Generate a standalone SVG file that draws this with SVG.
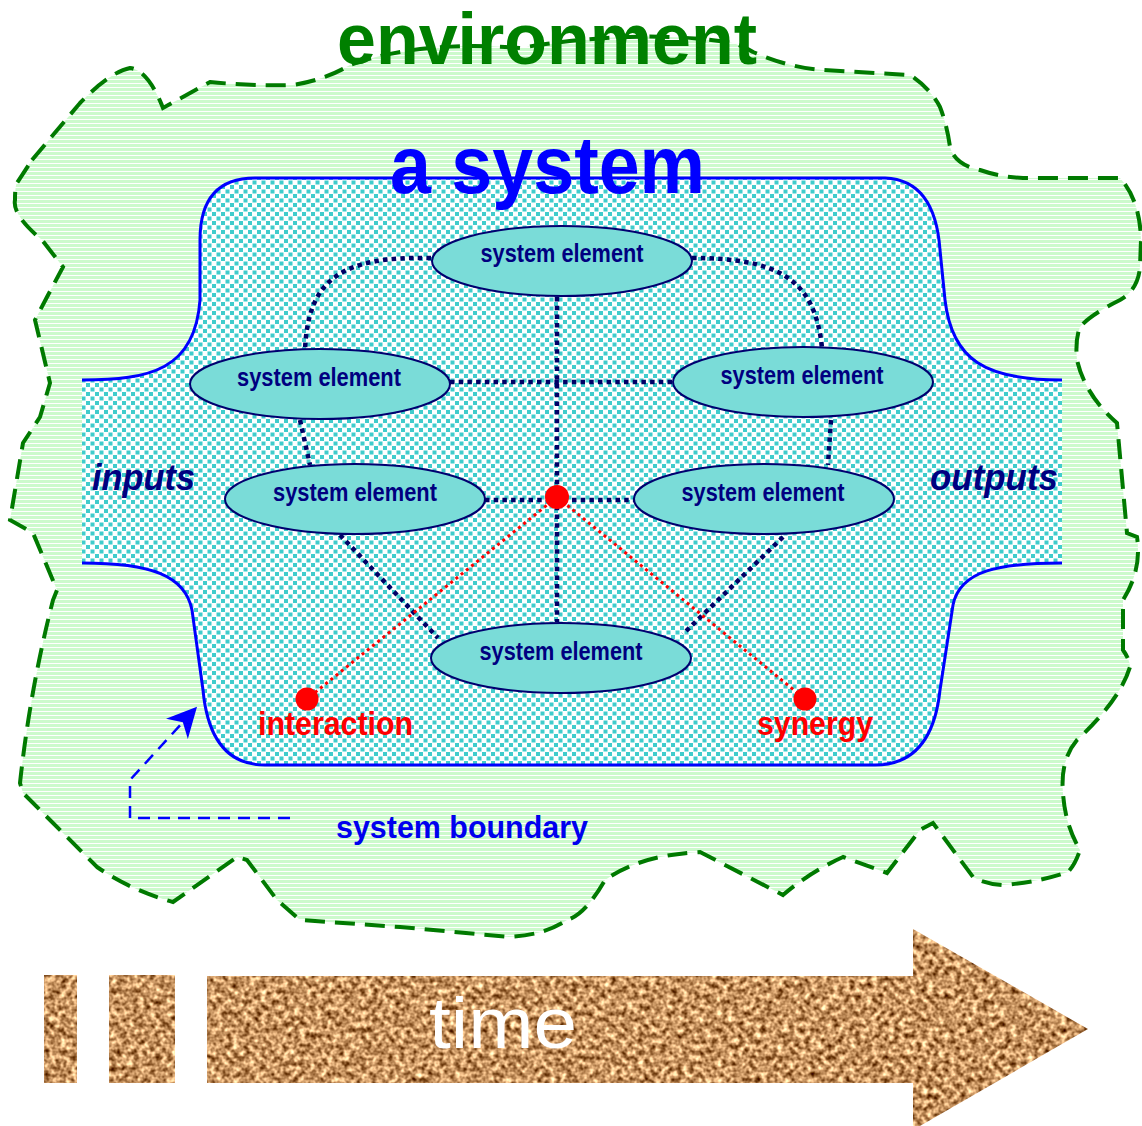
<svg xmlns="http://www.w3.org/2000/svg" width="1142" height="1126" viewBox="0 0 1142 1126">
<defs>
<pattern id="hatch" width="8" height="4" patternUnits="userSpaceOnUse">
<rect width="8" height="4" fill="#ccfacc"/>
<rect y="3" width="8" height="1" fill="#ffffff"/>
</pattern>
<pattern id="dots" width="9" height="9" patternUnits="userSpaceOnUse">
<rect width="9" height="9" fill="#ffffff"/>
<rect x="0.5" y="0.5" width="4" height="4" fill="#40cccc"/>
<rect x="5" y="5" width="4" height="4" fill="#40cccc"/>
</pattern>
<filter id="cork" x="0" y="0" width="1" height="1" color-interpolation-filters="sRGB">
<feTurbulence type="fractalNoise" baseFrequency="0.18" numOctaves="2" seed="7" result="n"/>
<feColorMatrix in="n" type="matrix" values="1.4 0 0 0 0.08  1.4 0 0 0 -0.12  1.3 0 0 0 -0.27  0 0 0 0 1" result="c"/>
<feComposite in="c" in2="SourceGraphic" operator="in"/>
</filter>
<marker id="barbBig" viewBox="0 0 10 10" refX="9" refY="5" markerWidth="30" markerHeight="30" markerUnits="userSpaceOnUse" orient="auto">
<path d="M0,0 L10,5 L0,10 L3,5 Z" fill="#0000ff"/>
</marker>
</defs>
<style>
.ell{fill:#7adcd8;stroke:#000070;stroke-width:2}
.lbl{font-family:"Liberation Sans",Arial,sans-serif;font-size:25px;font-weight:bold;fill:#000080;text-anchor:middle}
.con{fill:none;stroke:#000066;stroke-width:4.5;stroke-dasharray:4.5 4.2}
.red{fill:none;stroke:#ff0000;stroke-width:3;stroke-dasharray:3 3.7}
.io{font-family:"Liberation Sans",Arial,sans-serif;font-size:37px;font-weight:bold;font-style:italic;fill:#000080}
.rt{font-family:"Liberation Sans",Arial,sans-serif;font-size:33px;font-weight:bold;fill:#ff0000}
</style>
<rect width="1142" height="1126" fill="#ffffff"/>

<g id="environment">
<path d="M32,160 L80,103 Q110,72 130,68 Q148,70 163,108 L210,82 Q250,86 293,85 Q325,80 350,65 Q420,40 520,48 Q640,28 733,43 Q745,47 753,52 Q790,68 823,70 L910,75 Q930,88 940,107 Q947,125 950,147 Q955,165 980,170 Q1000,177 1023,178 L1120,178 Q1140,200 1141,240 L1140,267 Q1138,290 1120,300 Q1090,315 1080,327 Q1075,340 1077,360 Q1085,395 1117,423 L1127,533 L1137,537 Q1142,570 1123,600 L1123,650 Q1130,660 1130,667 Q1120,700 1077,740 Q1060,760 1063,793 Q1065,825 1080,850 Q1075,865 1068,872 Q1040,882 1003,885 Q985,884 973,877 L933,823 L920,830 L887,873 L843,857 Q810,872 783,895 L700,852 Q640,855 605,880 Q585,915 567,920 Q545,935 509,937 L400,927 L300,920 L277,900 L247,860 L237,857 L173,902 Q130,890 97,867 L23,793 L20,783 Q30,690 53,600 L57,590 L33,533 L10,520 L23,443 L40,417 L50,383 L35,320 L47,297 L63,267 L42,240 Q12,215 15,200 Q15,185 17,183 Z" fill="url(#hatch)" stroke="#007a00" stroke-width="4" stroke-dasharray="20 10"/>
<text x="337" y="64" font-family="'Liberation Sans',Arial,sans-serif" font-size="72" font-weight="bold" fill="#008000" textLength="420" lengthAdjust="spacingAndGlyphs">environment</text>
</g>

<g id="system">
<path d="M82,380 C150,380 195,370 200,300 L200,240 Q200,178 255,178 L885,178 Q935,180 940,250 L945,300 C952,360 985,380 1062,380 L1062,563 C1000,563 960,570 953,605 L940,690 Q932,765 875,765 L265,765 Q210,765 203,690 L192,610 C185,575 150,563 82,563 Z" fill="url(#dots)"/>
<path d="M82,380 C150,380 195,370 200,300 L200,240 Q200,178 255,178 L885,178 Q935,180 940,250 L945,300 C952,360 985,380 1062,380" fill="none" stroke="#0000ff" stroke-width="3"/>
<path d="M1062,563 C1000,563 960,570 953,605 L940,690 Q932,765 875,765 L265,765 Q210,765 203,690 L192,610 C185,575 150,563 82,563" fill="none" stroke="#0000ff" stroke-width="3"/>
<text x="390" y="193" font-family="'Liberation Sans',Arial,sans-serif" font-size="82" font-weight="bold" fill="#0000ff" textLength="315" lengthAdjust="spacingAndGlyphs">a system</text>
<text class="io" x="92" y="490" textLength="103" lengthAdjust="spacingAndGlyphs">inputs</text>
<text class="io" x="930" y="490" textLength="128" lengthAdjust="spacingAndGlyphs">outputs</text>
</g>

<g id="connectors">
<path class="con" d="M557,297 L557,622"/>
<path class="con" d="M450,382 L673,382"/>
<path class="con" d="M485,500 L635,500"/>
<path class="con" d="M431,258 C340,256 308,280 305,350"/>
<path class="con" d="M692,258 C780,258 815,280 822,348"/>
<path class="con" d="M300,420 L310,465"/>
<path class="con" d="M831,420 L828,465"/>
<path class="con" d="M340,535 L438,638"/>
<path class="con" d="M783,537 L683,634"/>
<path class="red" d="M557,497 L307,699"/>
<path class="red" d="M557,497 L805,699"/>
<path d="M290,818 L130,818 L130,780 L195,709" fill="none" stroke="#0000ff" stroke-width="2.5" stroke-dasharray="12 8" marker-end="url(#barbBig)"/>
</g>

<g id="e1"><ellipse class="ell" cx="562" cy="261" rx="130" ry="35"/><text class="lbl" x="562" y="262" textLength="163" lengthAdjust="spacingAndGlyphs">system element</text></g>
<g id="e2"><ellipse class="ell" cx="320" cy="384" rx="130" ry="35"/><text class="lbl" x="319" y="386" textLength="164" lengthAdjust="spacingAndGlyphs">system element</text></g>
<g id="e3"><ellipse class="ell" cx="803" cy="382" rx="130" ry="35"/><text class="lbl" x="802" y="384" textLength="163" lengthAdjust="spacingAndGlyphs">system element</text></g>
<g id="e4"><ellipse class="ell" cx="355" cy="499" rx="130" ry="35"/><text class="lbl" x="355" y="501" textLength="164" lengthAdjust="spacingAndGlyphs">system element</text></g>
<g id="e5"><ellipse class="ell" cx="764" cy="499" rx="130" ry="35"/><text class="lbl" x="763" y="501" textLength="163" lengthAdjust="spacingAndGlyphs">system element</text></g>
<g id="e6"><ellipse class="ell" cx="561" cy="658" rx="130" ry="35"/><text class="lbl" x="561" y="660" textLength="163" lengthAdjust="spacingAndGlyphs">system element</text></g>

<g id="center-dot"><circle cx="557" cy="497" r="12" fill="#ff0000"/></g>
<g id="interaction"><circle cx="307" cy="699" r="11.5" fill="#ff0000"/><text class="rt" x="258" y="735" textLength="155" lengthAdjust="spacingAndGlyphs">interaction</text></g>
<g id="synergy"><circle cx="805" cy="699" r="11.5" fill="#ff0000"/><text class="rt" x="757" y="735" textLength="116" lengthAdjust="spacingAndGlyphs">synergy</text></g>
<g id="boundary-label"><text x="336" y="838" font-family="'Liberation Sans',Arial,sans-serif" font-size="32" font-weight="bold" fill="#0000ee" textLength="252" lengthAdjust="spacingAndGlyphs">system boundary</text></g>

<g id="time">
<g filter="url(#cork)">
<rect x="44" y="975" width="33" height="108" fill="#c8915a"/>
<rect x="109" y="975" width="66" height="108" fill="#c8915a"/>
<path d="M207,976 L913,976 L913,929 L1088,1029 L913,1130 L913,1083 L207,1083 Z" fill="#c8915a"/>
</g>
<text x="429" y="1048" font-family="'Liberation Sans',Arial,sans-serif" font-size="72" fill="#ffffff" textLength="148" lengthAdjust="spacingAndGlyphs">time</text>
</g>
</svg>
